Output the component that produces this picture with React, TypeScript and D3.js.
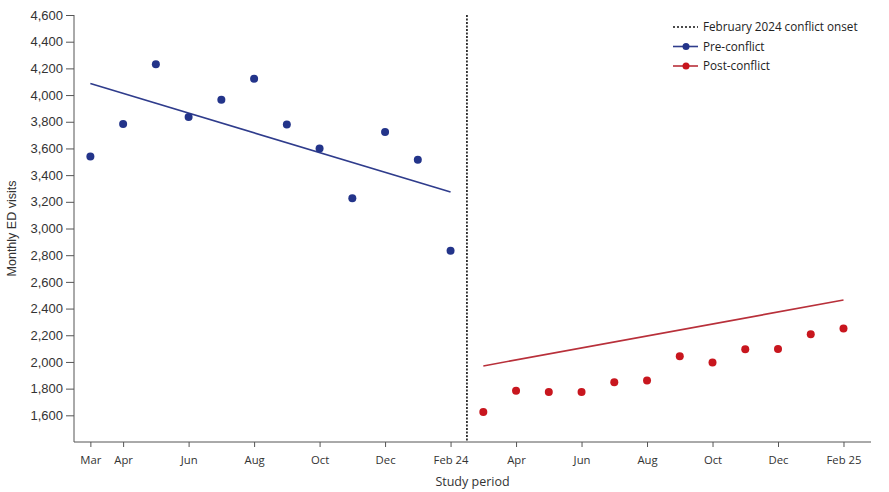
import { useRef, useEffect } from "react";
import * as d3 from "d3";

// month index 0 = Mar 2023, 23 = Feb 2025
const preVisits = [3540, 3783, 4231, 3836, 3964, 4123, 3779, 3599, 3227, 3724, 3516, 2834];
const postVisits = [1625, 1785, 1775, 1775, 1847, 1860, 2042, 1995, 2095, 2097, 2207, 2250];
const preTrend = [4086, 3274]; // fitted values at first / last pre month
const postTrend = [1970, 2464]; // fitted values at first / last post month
const tickMonths = [0, 1, 3, 5, 7, 9, 11, 13, 15, 17, 19, 21, 23];
const tickLabels = ["Mar", "Apr", "Jun", "Aug", "Oct", "Dec", "Feb 24", "Apr", "Jun", "Aug", "Oct", "Dec", "Feb 25"];
const yTicks = [1600, 1800, 2000, 2200, 2400, 2600, 2800, 3000, 3200, 3400, 3600, 3800, 4000, 4200, 4400, 4600];
const onsetMonth = 11.5;
const legendItems = ["February 2024 conflict onset", "Pre-conflict", "Post-conflict"];

const BLUE = "#23348a";
const BLUE_LINE = "#2f3c8c";
const RED = "#c8161e";
const RED_LINE = "#b8303a";

export default function App() {
    const svgRef = useRef<SVGSVGElement | null>(null);
    const width = 889;
    const height = 492;

    useEffect(() => {
        if (!svgRef.current) return;
        const svg = d3.select(svgRef.current);
        svg.selectAll("*").remove();

        const margin = { top: 15, right: 18, bottom: 50, left: 74 };

        const x = d3.scaleLinear()
            .domain([-0.5, 23.84])
            .range([margin.left, width - margin.right]);

        const y = d3.scaleLinear()
            .domain([1400, 4600])
            .range([height - margin.bottom, margin.top]);

        const axisFont = "'Liberation Sans', Arial, sans-serif";
        const textFont = "'Open Sans', sans-serif";

        // y axis
        const yAxis = svg.append("g")
            .attr("transform", `translate(${margin.left},0)`)
            .call(d3.axisLeft(y).tickValues(yTicks).tickSize(8).tickPadding(3).tickFormat(d3.format(",")));
        yAxis.select(".domain").attr("stroke", "#555").attr("d", `M0,${y(4600)}V${y(1400)}`);
        yAxis.selectAll("line").attr("stroke", "#555");
        yAxis.selectAll("text")
            .attr("font-family", axisFont)
            .attr("font-size", 13)
            .attr("fill", "#333");

        // x axis
        const xAxis = svg.append("g")
            .attr("transform", `translate(0,${height - margin.bottom})`)
            .call(d3.axisBottom(x)
                .tickValues(tickMonths)
                .tickSize(5)
                .tickPadding(9)
                .tickFormat((_, i) => tickLabels[i]));
        xAxis.select(".domain").attr("stroke", "#555").attr("d", `M${x(-0.5)},0H${x(23.84)}`);
        xAxis.selectAll("line").attr("stroke", "#555");
        xAxis.selectAll("text")
            .attr("font-family", textFont)
            .attr("font-size", 11.3)
            .attr("fill", "#333");

        // axis titles
        svg.append("text")
            .attr("x", (margin.left + width - margin.right) / 2)
            .attr("y", 486)
            .attr("text-anchor", "middle")
            .attr("font-family", textFont)
            .attr("font-size", 12.5)
            .attr("fill", "#333")
            .text("Study period");

        svg.append("text")
            .attr("transform", `translate(16,${(margin.top + height - margin.bottom) / 2}) rotate(-90)`)
            .attr("text-anchor", "middle")
            .attr("font-family", axisFont)
            .attr("font-size", 12.5)
            .attr("fill", "#333")
            .text("Monthly ED visits");

        // conflict onset
        svg.append("line")
            .attr("x1", x(onsetMonth))
            .attr("x2", x(onsetMonth))
            .attr("y1", y(4600))
            .attr("y2", height - margin.bottom)
            .attr("stroke", "#111")
            .attr("stroke-width", 1.6)
            .attr("stroke-dasharray", "2,1.5");

        // trend lines
        svg.append("line")
            .attr("x1", x(0)).attr("y1", y(preTrend[0]))
            .attr("x2", x(preVisits.length - 1)).attr("y2", y(preTrend[1]))
            .attr("stroke", BLUE_LINE)
            .attr("stroke-width", 1.6);

        svg.append("line")
            .attr("x1", x(preVisits.length)).attr("y1", y(postTrend[0]))
            .attr("x2", x(preVisits.length + postVisits.length - 1)).attr("y2", y(postTrend[1]))
            .attr("stroke", RED_LINE)
            .attr("stroke-width", 1.6);

        // points
        svg.append("g")
            .selectAll("circle")
            .data(preVisits)
            .enter()
            .append("circle")
            .attr("cx", (_, i) => x(i))
            .attr("cy", d => y(d))
            .attr("r", 4)
            .attr("fill", BLUE);

        svg.append("g")
            .selectAll("circle")
            .data(postVisits)
            .enter()
            .append("circle")
            .attr("cx", (_, i) => x(i + preVisits.length))
            .attr("cy", d => y(d))
            .attr("r", 4)
            .attr("fill", RED);

        // legend
        const legend = svg.append("g").attr("transform", "translate(673,27)");
        legendItems.forEach((label, i) => {
            const row = legend.append("g").attr("transform", `translate(0,${i * 19.5})`);
            if (i === 0) {
                row.append("line")
                    .attr("x1", 0).attr("x2", 25)
                    .attr("stroke", "#111")
                    .attr("stroke-width", 1.5)
                    .attr("stroke-dasharray", "2,2");
            } else {
                const c = i === 1 ? BLUE : RED;
                row.append("line")
                    .attr("x1", 0).attr("x2", 25)
                    .attr("stroke", i === 1 ? BLUE_LINE : RED_LINE)
                    .attr("stroke-width", 1.6);
                row.append("circle").attr("cx", 13).attr("r", 3.5).attr("fill", c);
            }
            row.append("text")
                .attr("x", 30)
                .attr("dy", "0.35em")
                .attr("font-family", textFont)
                .attr("font-size", 11.7)
                .attr("fill", "#222")
                .text(label);
        });
    }, []);

    return (
        <svg ref={svgRef} width={width} height={height} style={{ display: "block", position: "absolute", left: 0, top: 0, background: "#fff" }} />
    );
}
